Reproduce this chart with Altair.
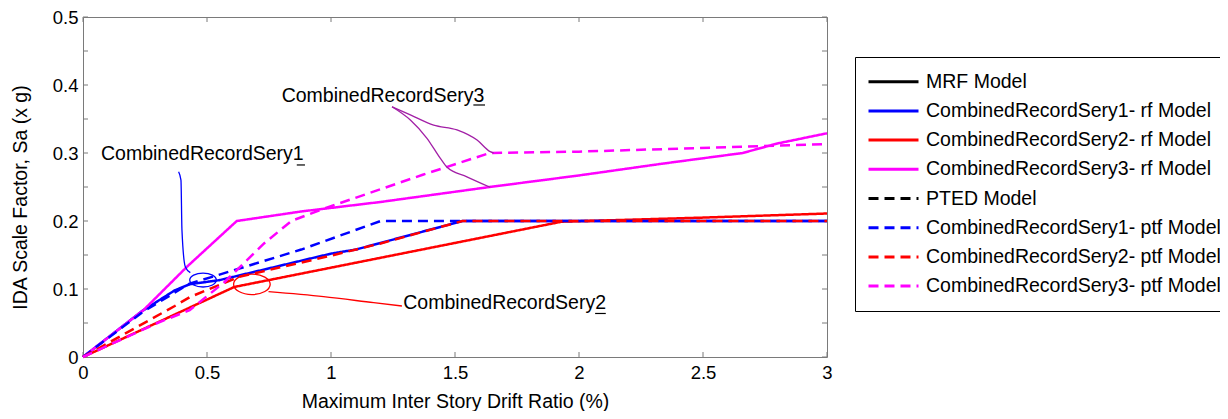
import altair as alt
import pandas as pd

FONT = "Liberation Sans"

# ---------------- series definitions ----------------
series_names = [
    "MRF Model",
    "CombinedRecordSery1- rf Model",
    "CombinedRecordSery2- rf Model",
    "CombinedRecordSery3- rf Model",
    "PTED Model",
    "CombinedRecordSery1- ptf Model",
    "CombinedRecordSery2- ptf Model",
    "CombinedRecordSery3- ptf Model",
]
series_colors = ["#000000", "#0000ff", "#ff0000", "#ff00ff",
                 "#000000", "#0000ff", "#ff0000", "#ff00ff"]
series_dash = [[1, 0], [1, 0], [1, 0], [1, 0],
               [10, 6], [10, 6], [10, 6], [10, 6]]

# ---------------- data ----------------
sery1_rf_x = [0, 0.24, 0.37, 0.43, 0.55, 1.0, 1.1, 1.53, 3.0]
sery1_rf_y = [0, 0.068, 0.098, 0.107, 0.113, 0.152, 0.158, 0.2, 0.2]

sery2_rf_x = [0, 0.61, 1.93, 2.5, 3.0]
sery2_rf_y = [0, 0.103, 0.199, 0.205, 0.211]

sery3_rf_x = [0, 0.244, 0.42, 0.62, 0.88, 1.2, 1.64, 2.0, 2.33, 2.66, 2.8, 3.0]
sery3_rf_y = [0, 0.069, 0.133, 0.2, 0.214, 0.228, 0.25, 0.267, 0.284, 0.30, 0.314, 0.329]

sery1_ptf_x = [0, 0.24, 0.43, 0.54, 0.88, 1.2, 3.0]
sery1_ptf_y = [0, 0.066, 0.108, 0.12, 0.158, 0.2, 0.2]

sery2_ptf_x = [0, 0.37, 0.43, 0.63, 1.0, 1.2, 1.53, 3.0]
sery2_ptf_y = [0, 0.075, 0.088, 0.118, 0.149, 0.167, 0.2, 0.2]

sery3_ptf_x = [0, 0.3, 0.43, 0.57, 0.73, 0.84, 0.97, 1.37, 1.64, 2.0, 3.0]
sery3_ptf_y = [0, 0.05, 0.069, 0.11, 0.167, 0.2, 0.218, 0.268, 0.3, 0.302, 0.313]

# annotation leader curves (data units)
ann1_x = [0.3855, 0.395, 0.399, 0.4125, 0.4327]
ann1_y = [0.2725, 0.26, 0.1868, 0.1328, 0.124]
ann2_x = [0.748, 0.97, 1.172, 1.286]
ann2_y = [0.096, 0.0887, 0.0799, 0.075]
ann3a_x = [1.246, 1.32, 1.414, 1.508, 1.589, 1.642, 1.656]
ann3a_y = [0.368, 0.356, 0.341, 0.334, 0.319, 0.302, 0.300]
ann3b_x = [1.246, 1.32, 1.387, 1.441, 1.468, 1.548, 1.642]
ann3b_y = [0.368, 0.3485, 0.3216, 0.292, 0.279, 0.265, 0.2496]

# ellipse centres
ell1_center = (0.484, 0.1132)
ell2_center = (0.681, 0.1069)

# annotation texts
ann_texts = ["CombinedRecordSery1", "CombinedRecordSery2", "CombinedRecordSery3"]
ann_text_x = [0.0726, 1.2915, 0.801]
ann_text_y = [0.2897, 0.0713, 0.3754]
# underlines below the final digit
ul_x = [0.862, 2.065, 1.574]
ul_x2 = [0.895, 2.108, 1.621]
ul_y = [0.2824, 0.064, 0.3706]

# axis ticks
x_ticks = [0, 0.5, 1, 1.5, 2, 2.5, 3]
y_ticks = [0, 0.05, 0.1, 0.15, 0.2, 0.25, 0.3, 0.35, 0.4, 0.45, 0.5]

# ---------------- build tables ----------------
rows = []
def add(name, xs, ys):
    for i, (a, b) in enumerate(zip(xs, ys)):
        rows.append({"series": name, "x": a, "y": b, "i": i})

add(series_names[1], sery1_rf_x, sery1_rf_y)
add(series_names[2], sery2_rf_x, sery2_rf_y)
add(series_names[3], sery3_rf_x, sery3_rf_y)
add(series_names[5], sery1_ptf_x, sery1_ptf_y)
add(series_names[6], sery2_ptf_x, sery2_ptf_y)
add(series_names[7], sery3_ptf_x, sery3_ptf_y)
df = pd.DataFrame(rows)

xscale = alt.Scale(domain=[0, 3], nice=False, zero=False)
yscale = alt.Scale(domain=[0, 0.5], nice=False, zero=False)

xaxis = alt.Axis(values=x_ticks, format="~g", title="Maximum Inter Story Drift Ratio (%)",
                 domain=False, ticks=False, tickSize=0, grid=False,
                 labelFont=FONT, labelFontSize=18.5, labelColor="#000000", labelPadding=6,
                 labelFlush=False,
                 titleFont=FONT, titleFontSize=19.5, titleFontWeight="normal", titleColor="#000000",
                 titleY=44, titleBaseline="middle")
yaxis = alt.Axis(values=y_ticks, format="~g", title="IDA Scale Factor, Sa (x g)",
                 domain=False, ticks=False, tickSize=0, grid=False,
                 labelFont=FONT, labelFontSize=18.5, labelColor="#000000", labelPadding=5,
                 labelFlush=False,
                 titleFont=FONT, titleFontSize=19.5, titleFontWeight="normal", titleColor="#000000",
                 titleX=-63, titleY=180, titleAngle=270, titleAlign="center", titleBaseline="middle")

legend = alt.Legend(
    title=None, orient="none", legendX=772, legendY=40,
    strokeColor="#000000", fillColor="#ffffff", padding=12,
    rowPadding=3.2, clipHeight=25.4,
    symbolType="stroke", symbolSize=2500, symbolStrokeWidth=3,
    labelFont=FONT, labelFontSize=19.5, labelColor="#000000", labelOffset=6, labelLimit=500,
)

tick_color = "#7a7a7a"

lines = alt.Chart(df).mark_line(strokeWidth=2.5).encode(
    x=alt.X("x:Q", scale=xscale, axis=xaxis),
    y=alt.Y("y:Q", scale=yscale, axis=yaxis),
    color=alt.Color("series:N", scale=alt.Scale(domain=series_names, range=series_colors), legend=legend),
    strokeDash=alt.StrokeDash("series:N", scale=alt.Scale(domain=series_names, range=series_dash), legend=legend),
    order=alt.Order("i:Q"),
)

xt = pd.DataFrame({"x": x_ticks})
yt = pd.DataFrame({"y": y_ticks})
tick_bottom = alt.Chart(xt).mark_rule(color=tick_color, strokeWidth=1).encode(
    x="x:Q", y=alt.value(340), y2=alt.value(335))
tick_top = alt.Chart(xt).mark_rule(color=tick_color, strokeWidth=1).encode(
    x="x:Q", y=alt.value(0), y2=alt.value(5))
tick_left = alt.Chart(yt).mark_rule(color=tick_color, strokeWidth=1).encode(
    y="y:Q", x=alt.value(0), x2=alt.value(5))
tick_right = alt.Chart(yt).mark_rule(color=tick_color, strokeWidth=1).encode(
    y="y:Q", x=alt.value(744), x2=alt.value(739))

def ann_line(xs, ys, color):
    d = pd.DataFrame({"x": xs, "y": ys, "i": list(range(len(xs)))})
    return alt.Chart(d).mark_line(color=color, strokeWidth=1.3, interpolate="monotone").encode(
        x="x:Q", y="y:Q", order="i:Q")

a1 = ann_line(ann1_x, ann1_y, "#0000ff")
a2 = ann_line(ann2_x, ann2_y, "#ff0000")
a3a = ann_line(ann3a_x, ann3a_y, "#a21fa6")
a3b = ann_line(ann3b_x, ann3b_y, "#a21fa6")

ell1 = alt.Chart(pd.DataFrame({"x": [ell1_center[0]], "y": [ell1_center[1]]})).mark_point(
    shape="M-1,0A1,0.526,0,1,1,1,0A1,0.526,0,1,1,-1,0Z", size=708, filled=False,
    color="#0000ff", strokeWidth=1.3, opacity=1).encode(x="x:Q", y="y:Q")
ell2 = alt.Chart(pd.DataFrame({"x": [ell2_center[0]], "y": [ell2_center[1]]})).mark_point(
    shape="M-1,0A1,0.56,0,1,1,1,0A1,0.56,0,1,1,-1,0Z", size=1340, filled=False,
    color="#ff0000", strokeWidth=1.3, opacity=1).encode(x="x:Q", y="y:Q")

tdf = pd.DataFrame({"x": ann_text_x, "y": ann_text_y, "t": ann_texts})
texts = alt.Chart(tdf).mark_text(align="left", baseline="alphabetic", font=FONT,
                                 fontSize=19.5, color="#000000").encode(
    x="x:Q", y="y:Q", text="t:N")

udf = pd.DataFrame({"x": ul_x, "x2": ul_x2, "y": ul_y})
underlines = alt.Chart(udf).mark_rule(color="#000000", strokeWidth=1.2).encode(
    x="x:Q", x2="x2:Q", y="y:Q")

chart = alt.layer(
    tick_bottom, tick_top, tick_left, tick_right,
    lines, a1, a2, a3a, a3b, ell1, ell2, texts, underlines
).properties(
    width=744, height=340,
    autosize=alt.AutoSizeParams(type="none"),
    padding={"left": 75, "top": 9, "right": 393, "bottom": 54},
    background="#ffffff",
).configure_view(stroke="#7a7a7a", strokeWidth=1)

chart.save("out.html", embed_options={"renderer": "svg", "actions": False})
